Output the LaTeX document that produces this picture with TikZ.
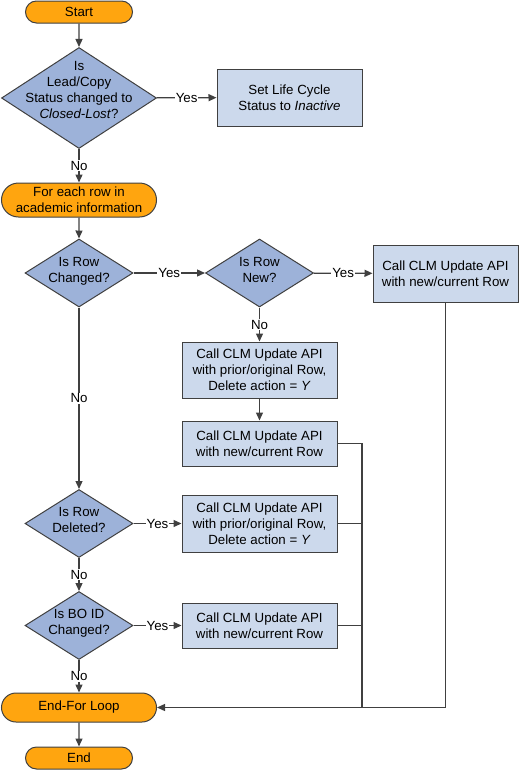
\documentclass[tikz,border=0pt]{standalone}
\usepackage{fontspec}
\setmainfont{Liberation Sans}
\usetikzlibrary{shapes.geometric,shapes.misc,arrows.meta}
\definecolor{termorange}{HTML}{FFA50F}
\definecolor{testblue}{HTML}{9DB2D9}
\definecolor{boxblue}{HTML}{CCD9EC}
\definecolor{linegray}{HTML}{404040}
\begin{document}
\begin{tikzpicture}[x=1pt,y=-1pt,
    font=\fontsize{13.3}{16}\selectfont,
    term/.style={rounded rectangle, fill=termorange, inner sep=0pt},
    test/.style={diamond, fill=testblue, inner sep=-30pt, text depth=7pt,
      minimum width=108pt, minimum height=68pt},
    stepbox/.style={rectangle, fill=boxblue, inner sep=0pt,
      minimum width=155pt},
    flow/.style={draw=linegray, line width=1.3pt, -{Triangle[length=8pt,width=7pt]}}]

        \useasboundingbox (0,0) rectangle (519,771);

        \begin{scope}[every node/.style={draw=linegray, line width=1pt, align=center}]
          \node[term, minimum width=107pt, minimum height=22pt] (1) at (79,12) {Start};
          \node[test, minimum width=155pt, minimum height=101pt, text depth=16pt] (2) at (79,98)
            {Is\\Lead/Copy\\Status changed to\\\textit{Closed-Lost}?};
          \node[stepbox, minimum width=145pt, minimum height=57pt] (3) at (289.5,97.5)
            {Set Life Cycle\\Status to \textit{Inactive}};
          \node[term, minimum width=155pt, minimum height=34pt] (4) at (79,200)
            {For each row in\\academic information};
          \node[test] (5) at (79,273) {Is Row\\Changed?};
          \node[test] (6) at (259.5,273) {Is Row\\New?};
          \node[stepbox, minimum width=145pt, minimum height=57pt] (7) at (445.5,273.5)
            {Call CLM Update API\\with new/current Row};
          \node[stepbox, minimum height=56pt] (8) at (259.5,370)
            {Call CLM Update API\\with prior/original Row,\\Delete action = \textit{Y}};
          \node[stepbox, minimum height=45pt] (9) at (259.5,443.5)
            {Call CLM Update API\\with new/current Row};
          \node[test] (10) at (79,523.5) {Is Row\\Deleted?};
          \node[stepbox, minimum height=57pt] (11) at (259.5,523.5)
            {Call CLM Update API\\with prior/original Row,\\Delete action = \textit{Y}};
          \node[test] (12) at (79,625.5) {Is BO ID\\Changed?};
          \node[stepbox, minimum height=45pt] (13) at (259.5,625.5)
            {Call CLM Update API\\with new/current Row};
          \node[term, minimum width=155pt, minimum height=29pt] (14) at (79,707.5) {End-For Loop};
          \node[term, minimum width=107pt, minimum height=22pt] (15) at (79,758) {End};
        \end{scope}

        \coordinate (j) at (362,707.5);

        \begin{scope}[every node/.style={fill=white, inner sep=1pt}]

          \begin{scope}[every edge/.style={flow}]
            \path (1)  edge (2);
            \path (2)  edge node {Yes} (3);
            \path (2)  edge node {No} (4);
            \path (4)  edge (5);
            \path (5)  edge node {Yes} (6);
            \path (6)  edge node {Yes} (7);
            \path (6)  edge node {No} (8);
            \path (8)  edge (9);
            \path (5)  edge node {No} (10);
            \path (10) edge node {Yes} (11);
            \path (10) edge node {No} (12);
            \path (12) edge node {Yes} (13);
            \path (12) edge node {No} (14);
            \path (14) edge (15);
          \end{scope}

          \draw[flow, -] (9) -| (j);
          \draw[flow, -] (11) -- (11 -| j);
          \draw[flow, -] (13) -- (13 -| j);
          \draw[flow] (7) |- (14);
        \end{scope}

      \end{tikzpicture}
\end{document}
